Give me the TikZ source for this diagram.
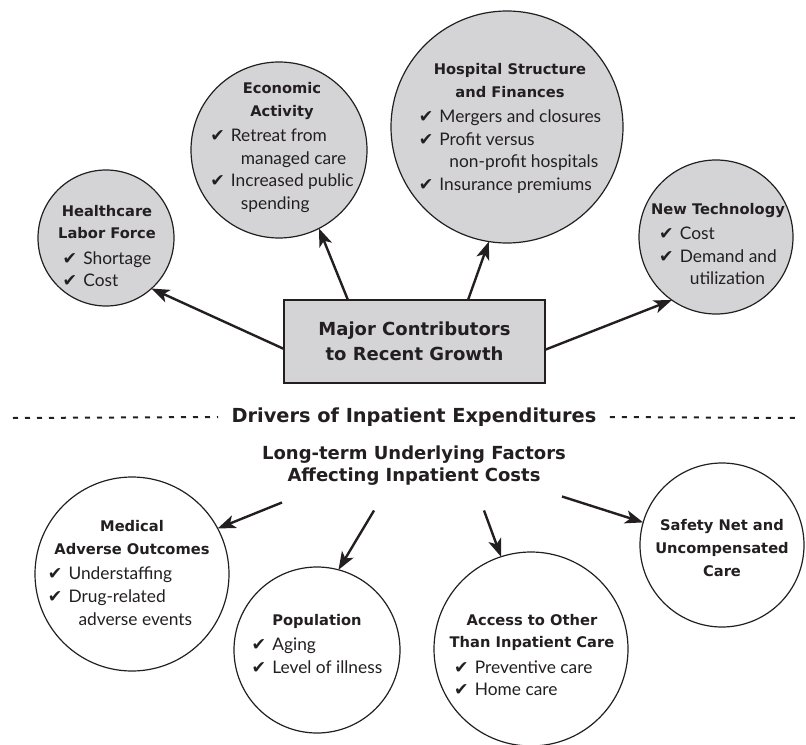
\documentclass[tikz,border=0pt]{standalone}
\usepackage{fontspec}
\setmainfont{Lato}
\newfontfamily\headfont{DejaVu Sans}
\newfontfamily\checkfont{DejaVu Sans}
\usetikzlibrary{arrows.meta, calc}

\definecolor{bubblegray}{RGB}{212,212,214}
\definecolor{inkgray}{RGB}{35,31,32}

\newcommand{\chk}{\makebox[15.5pt][l]{\checkfont\char"2714}}
\newcommand{\cnt}{\hspace*{23pt}}
\newcommand{\hd}[1]{{\headfont\bfseries\fontsize{11}{17}\selectfont #1}}
\newcommand{\items}[1]{\begin{tabular}[t]{@{}l@{}}#1\end{tabular}}
\newcommand{\bubtxt}[1]{\begin{tabular}{@{}c@{}}#1\end{tabular}}

\begin{document}
\begin{tikzpicture}[x=0.75pt, y=-0.75pt, color=inkgray,
  font=\fontsize{13}{17}\selectfont,
  bubble/.style={circle, draw=inkgray, line width=0.9pt, fill=bubblegray, inner sep=0pt, outer sep=0pt},
  openbubble/.style={bubble, fill=white},
  bubtext/.style={inner sep=0pt},
  link/.style={-{Stealth[length=13.5pt, width=10pt, inset=3.5pt]}, line width=1.8pt},
  heading/.style={font=\headfont\bfseries\fontsize{13.5}{16.5}\selectfont, align=center}]

\useasboundingbox (0,0) rectangle (806,745);

% major contributors
\node[bubble, rectangle, line width=1.2pt, minimum width=195.75pt, minimum height=62.25pt,
  heading, font=\headfont\bfseries\fontsize{13.5}{18.75}\selectfont] (major) at (414.5,341.5)
  {Major Contributors\\to Recent Growth};

\node[bubble, minimum size=102pt] (labor) at (106,238) {};
\node[bubtext] (labor-t) at (107,247) {\bubtxt{\hd{Healthcare}\\ \hd{Labor Force}\\[2pt]
  \items{\chk Shortage\\ \chk Cost}}};

\node[bubble, minimum size=132pt] (econ) at (279,150) {};
\node[bubtext] (econ-t) at (282,147) {\bubtxt{\hd{Economic}\\ \hd{Activity}\\[2pt]
  \items{\chk Retreat from\\ \cnt managed care\\ \chk Increased public\\ \cnt spending}}};

\node[bubble, minimum size=174pt] (hosp) at (507,127) {};
\node[bubtext] (hosp-t) at (510,128) {\bubtxt{\hd{Hospital Structure}\\ \hd{and Finances}\\[2pt]
  \items{\chk Mergers and closures\\ \chk Profit versus\\ \cnt non-profit hospitals\\ \chk Insurance premiums}}};

\node[bubble, minimum size=115.5pt] (tech) at (716,237) {};
\node[bubtext] (tech-t) at (718,245) {\bubtxt{\hd{New Technology}\\[2pt]
  \items{\chk Cost\\ \chk Demand and\\ \cnt utilization}}};

\draw[link] ($(major.south west)!0.41!(major.north west)$) -- (labor.-48);
\draw[link] ($(major.north west)!0.245!(major.north east)$) -- (econ.-63);
\draw[link] ($(major.north west)!0.705!(major.north east)$) -- (hosp.-99);
\draw[link] ($(major.south east)!0.4!(major.north east)$) -- (tech.-125);

% separator
\node[heading, font=\headfont\bfseries\fontsize{14.5}{16.5}\selectfont, inner xsep=10pt] (drivers) at (414,417)
  {Drivers of Inpatient Expenditures};
\coordinate (sepL) at (13,418);
\coordinate (sepR) at (800,418);
\draw[line width=1.5pt, dash pattern=on 3.75pt off 5.25pt] (sepL) -- (drivers.west);
\draw[line width=1.5pt, dash pattern=on 3.75pt off 5.25pt] (drivers.east) -- (sepR);

% long-term factors
\node[heading] (longterm) at (414,466) {Long-term Underlying Factors\\Affecting Inpatient Costs};

\node[openbubble, minimum size=145.5pt] (medical) at (132,574) {};
\node[bubtext] (medical-t) at (132,574) {\bubtxt{\hd{Medical}\\ \hd{Adverse Outcomes}\\[2pt]
  \hspace*{-18pt}\items{\chk Understaffing\\ \chk Drug-related\\ \cnt adverse events}}};

\node[openbubble, minimum size=124.5pt] (pop) at (317,650) {};
\node[bubtext] (pop-t) at (317,645) {\bubtxt{\hd{Population}\\[2pt]
  \items{\chk Aging\\ \chk Level of illness}}};

\node[openbubble, minimum size=145.5pt] (access) at (531,649) {};
\node[bubtext] (access-t) at (532,656) {\bubtxt{\hd{Access to Other}\\ \hd{Than Inpatient Care}\\[2pt]
  \hspace*{-13pt}\items{\chk Preventive care\\ \chk Home care}}};

\node[openbubble, minimum size=123pt] (safety) at (722,545) {};
\node[bubtext] (safety-t) at (722,549) {\bubtxt{\hd{Safety Net and}\\ \hd{Uncompensated}\\ \hd{Care}}};

\draw[link] ($(longterm.south)+(-132,12)$) -- (medical.28);
\draw[link] ($(longterm.south)+(-40,20)$) -- (pop.75);
\draw[link] ($(longterm.south)+(70,20)$) -- (access.108);
\draw[link] ($(longterm.south)+(148,6)$) -- (safety.164);

\end{tikzpicture}
\end{document}
